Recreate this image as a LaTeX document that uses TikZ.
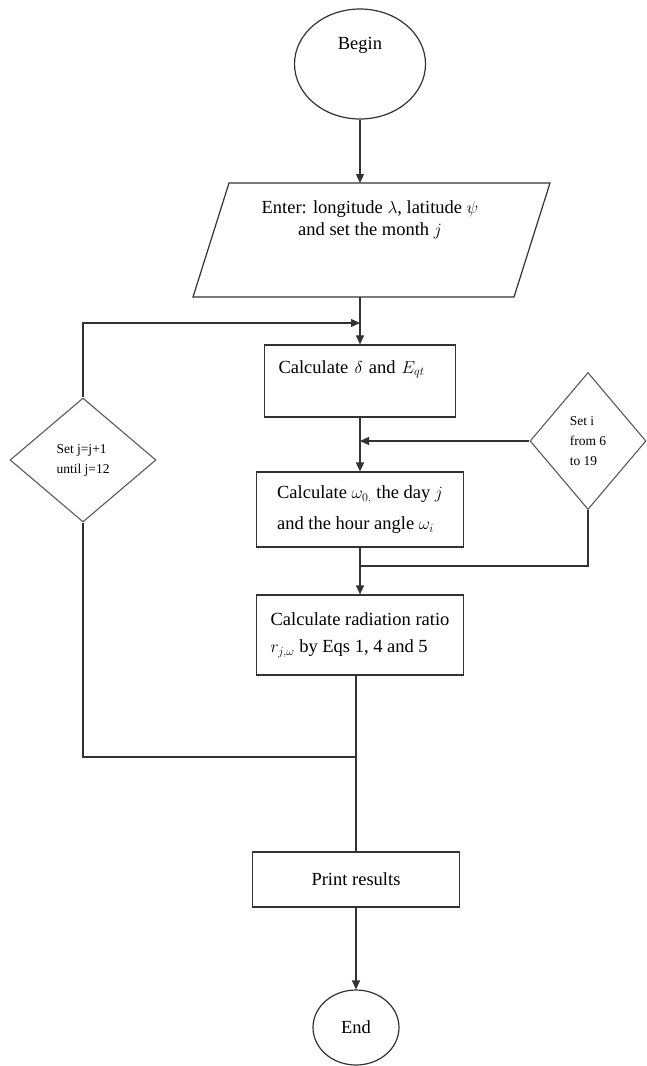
\documentclass[tikz,border=0pt]{standalone}
\usepackage{fontspec}
\setmainfont{Liberation Serif}
\usetikzlibrary{shapes.geometric,arrows.meta}

\begin{document}
\begin{tikzpicture}[x=1pt, y=-1pt,
  every node/.style={font=\fontsize{18.5}{22}\selectfont},
  term/.style={ellipse, draw=black!80, line width=1.2pt, inner sep=0pt},
  proc/.style={rectangle, draw=black!80, line width=1.2pt, align=left, inner sep=0pt},
  cond/.style={diamond, draw=black!65, line width=1.1pt, inner sep=0pt, align=left,
    font=\fontsize{13.5}{20}\selectfont},
  flow/.style={line width=1.2pt, black!80},
  arr/.style={flow, -{Triangle[length=9pt, width=8pt]}}]
  \useasboundingbox (0,0) rectangle (646,1066);
  % start and input
  \node[term, minimum width=131pt, minimum height=110pt] (begin) at (360,64) {};
  \node (begintxt) at (360,45) {Begin};
  \draw[flow] (193,297) -- (229,183) -- (550,183) -- (514,297) -- cycle;
  \node[align=center] (input) at (370,220) {Enter: longitude $\lambda$, latitude $\psi$\\and set the month $j$};
  \coordinate (inN) at (360,183);
  \coordinate (inS) at (360,297);
  % process boxes
  \node[proc, text width=163pt, inner xsep=14pt, minimum height=72pt] (calc1) at (360,381)
    {Calculate $\delta$ and $E_{qt}$\\ \strut};
  \node[proc, minimum width=207pt, minimum height=75pt] (calc2) at (360,509.5)
    {Calculate $\omega_{0,}$ the day $j$\\[9pt]and the hour angle $\omega_i$};
  \node[proc, minimum width=207pt, minimum height=80pt] (calc3) at (360,635)
    {Calculate radiation ratio\\[5pt]$r_{j,\omega}$ by Eqs 1, 4 and 5};
  \node[proc, minimum width=207pt, minimum height=55pt] (print) at (356,879.5) {Print results};
  \node[term, minimum width=86pt, minimum height=75pt] (end) at (356,1027.5) {End};
  % loop tests
  \node[cond, minimum width=146pt, minimum height=124pt] (condj) at (83,460) {Set j=j+1\\until j=12};
  \node[cond, minimum width=116pt, minimum height=137pt] (condi) at (588,441) {Set i\\from 6\\to 19};
  \coordinate (jtop) at (360,323);
  \coordinate (ijoin) at (360,441);
  \coordinate (imerge) at (360,566);
  \coordinate (jmerge) at (356,757);
  % connectors
  \draw[arr] (begin) -- (inN);
  \draw[arr] (inS) -- (calc1);
  \draw[arr] (condj) |- (jtop);
  \draw[arr] (calc1) -- (calc2);
  \draw[arr] (condi) -- (ijoin);
  \draw[arr] (calc2) -- (calc3);
  \draw[flow] (condi) |- (imerge);
  \draw[flow] (calc3.south -| print) -- (print);
  \draw[flow] (condj) |- (jmerge);
  \draw[arr] (print) -- (end);
\end{tikzpicture}
\end{document}
